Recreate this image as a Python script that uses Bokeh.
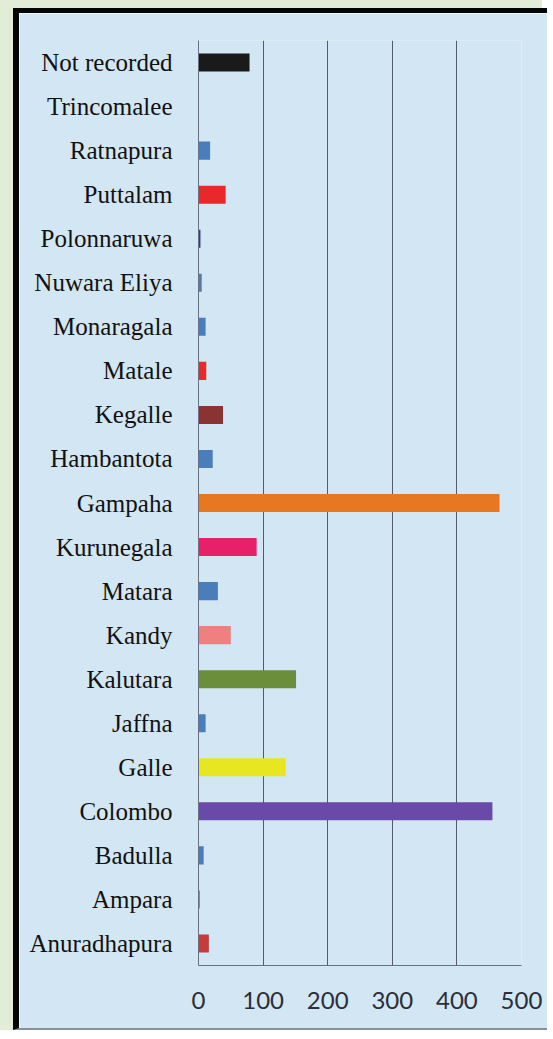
from bokeh.plotting import figure
from bokeh.models import FactorRange, Range1d, FixedTicker
from bokeh.embed import file_html
from bokeh.resources import INLINE

# Data (bottom to top)
districts = ["Anuradhapura", "Ampara", "Badulla", "Colombo", "Galle", "Jaffna",
             "Kalutara", "Kandy", "Matara", "Kurunegala", "Gampaha", "Hambantota",
             "Kegalle", "Matale", "Monaragala", "Nuwara Eliya", "Polonnaruwa",
             "Puttalam", "Ratnapura", "Trincomalee", "Not recorded"]
counts = [16, 2, 8, 455, 135, 11, 151, 50, 30, 90, 466, 22,
          38, 12, 11, 5, 3, 42, 18, 0, 79]
colors = ["#c43c3c", "#4a7ebb", "#4a7ebb", "#6a4aa8", "#e8e620", "#4a7ebb",
          "#6b8e3a", "#f08080", "#4a7ebb", "#e8206a", "#e87722", "#4a7ebb",
          "#8b3232", "#e82a2a", "#4a7ebb", "#5a7aa8", "#2a3a9a",
          "#e8282a", "#4a7ebb", "#4a7ebb", "#1a1a1a"]
x_ticks = [0, 100, 200, 300, 400, 500]

W, H = 534, 1022
p = figure(width=W, height=H, output_backend="svg", toolbar_location=None,
           y_range=FactorRange(*districts, range_padding=0),
           x_range=Range1d(0, 500),
           min_border_left=179, min_border_right=32,
           min_border_top=27, min_border_bottom=70)

p.styles = {"margin-left": "13px", "margin-top": "8px",
            "border-left": "6px solid #050505",
            "border-top": "5px solid #050505",
            "border-bottom": "2px solid #8a9098",
            "box-shadow": "-13px -8px 0px 8px #e3ecd6"}

p.border_fill_color = "#d3e6f3"
p.background_fill_color = "#d3e6f3"
p.outline_line_color = None

p.hbar(y=districts, right=counts, height=0.41, left=0, color=colors, line_color=None)

# axes
p.xaxis.ticker = FixedTicker(ticks=x_ticks)
p.xaxis.axis_line_color = "#6a7080"
p.xaxis.axis_line_width = 1
p.xaxis.major_tick_line_color = None
p.xaxis.minor_tick_line_color = None
p.xaxis.major_label_text_font = "Lato"
p.xaxis.major_label_text_font_size = "24px"
p.xaxis.major_label_text_color = "#2a2e3a"
p.xaxis.major_label_standoff = 20

p.yaxis.axis_line_color = "#6a7080"
p.yaxis.major_tick_line_color = None
p.yaxis.minor_tick_line_color = None
p.yaxis.major_label_text_font = "Liberation Serif"
p.yaxis.major_label_text_font_size = "25px"
p.yaxis.major_label_text_color = "#111111"
p.yaxis.major_label_standoff = 20

p.xgrid.ticker = FixedTicker(ticks=x_ticks)
p.xgrid.grid_line_color = "#555a66"
p.xgrid.grid_line_width = 1
p.ygrid.grid_line_color = None

html = file_html(p, INLINE)
open("out.html", "w").write(html)
